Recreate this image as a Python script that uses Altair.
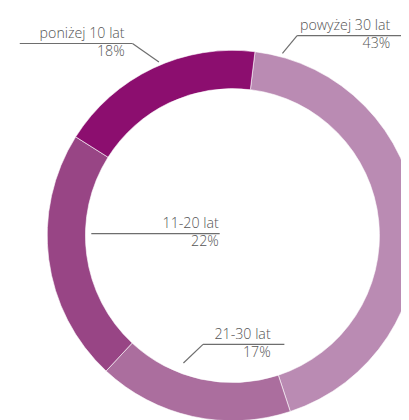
import altair as alt
import pandas as pd
import math

# data
categories = ["powyżej 30 lat", "21-30 lat", "11-20 lat", "poniżej 10 lat"]
values = [43, 17, 22, 18]
colors = ["#BA8BB3", "#AB6E9E", "#984585", "#8C0E6F"]

# layout (page pixel coordinates)
W, H = 401, 412
CX, CY = 237, 236
R_OUT, R_IN = 189, 150
START = math.radians(7)

label_right = [398, 276, 223, 127]
line_y = [32, 347, 234, 40]
line_x1 = [303, 207, 93, 20]
line_x2 = [412, 290, 224, 135]
diag_end = [(288, 50), (187, 366), None, (162, 59)]
diag_start = [(303, 32), (207, 347), None, (135, 40)]

df = pd.DataFrame({"cat": categories, "val": values, "ord": list(range(len(values)))})

arc = alt.Chart(df).mark_arc(
    outerRadius=R_OUT, innerRadius=R_IN, stroke="white", strokeWidth=0.6
).encode(
    theta=alt.Theta("val:Q", stack=True, scale=alt.Scale(range=[START, START + 2 * math.pi])),
    order=alt.Order("ord:Q"),
    color=alt.Color("cat:N", scale=alt.Scale(domain=categories, range=colors), legend=None),
    x=alt.value(CX - 8),
    y=alt.value(CY - 8),
)

xs = alt.Scale(domain=[8, 8 + W], range=[0, W])
ys = alt.Scale(domain=[8, 8 + H], range=[0, H])

segs = []
for i in range(len(categories)):
    segs.append({"x": line_x1[i], "y": line_y[i], "x2": line_x2[i], "y2": line_y[i]})
    if diag_start[i] is not None:
        segs.append({"x": diag_start[i][0], "y": diag_start[i][1],
                     "x2": diag_end[i][0], "y2": diag_end[i][1]})
seg_df = pd.DataFrame(segs)

rules = alt.Chart(seg_df).mark_rule(color="#6e6e6e", strokeWidth=1.2).encode(
    x=alt.X("x:Q", scale=xs, axis=None),
    y=alt.Y("y:Q", scale=ys, axis=None),
    x2="x2:Q",
    y2="y2:Q",
)

lab_df = pd.DataFrame({
    "cat": categories,
    "pct": [f"{v}%" for v in values],
    "x": label_right,
    "ly": [y - 5.5 for y in line_y],
    "py": [y + 13 for y in line_y],
})

font = "Open Sans"
labels = alt.Chart(lab_df).mark_text(
    align="right", baseline="alphabetic", font=font, fontSize=14.5, fontWeight=300, color="#555555"
).encode(
    x=alt.X("x:Q", scale=xs, axis=None),
    y=alt.Y("ly:Q", scale=ys, axis=None),
    text="cat:N",
)
pcts = alt.Chart(lab_df).mark_text(
    align="right", baseline="alphabetic", font=font, fontSize=14.5, fontWeight=300, color="#555555"
).encode(
    x=alt.X("x:Q", scale=xs, axis=None),
    y=alt.Y("py:Q", scale=ys, axis=None),
    text="pct:N",
)

chart = alt.layer(arc, rules, labels, pcts).properties(
    width=W, height=H, padding=0, autosize=alt.AutoSizeParams(type="none")
).configure_view(stroke=None)

chart.save("out.html", embed_options={"renderer": "svg", "actions": False})
